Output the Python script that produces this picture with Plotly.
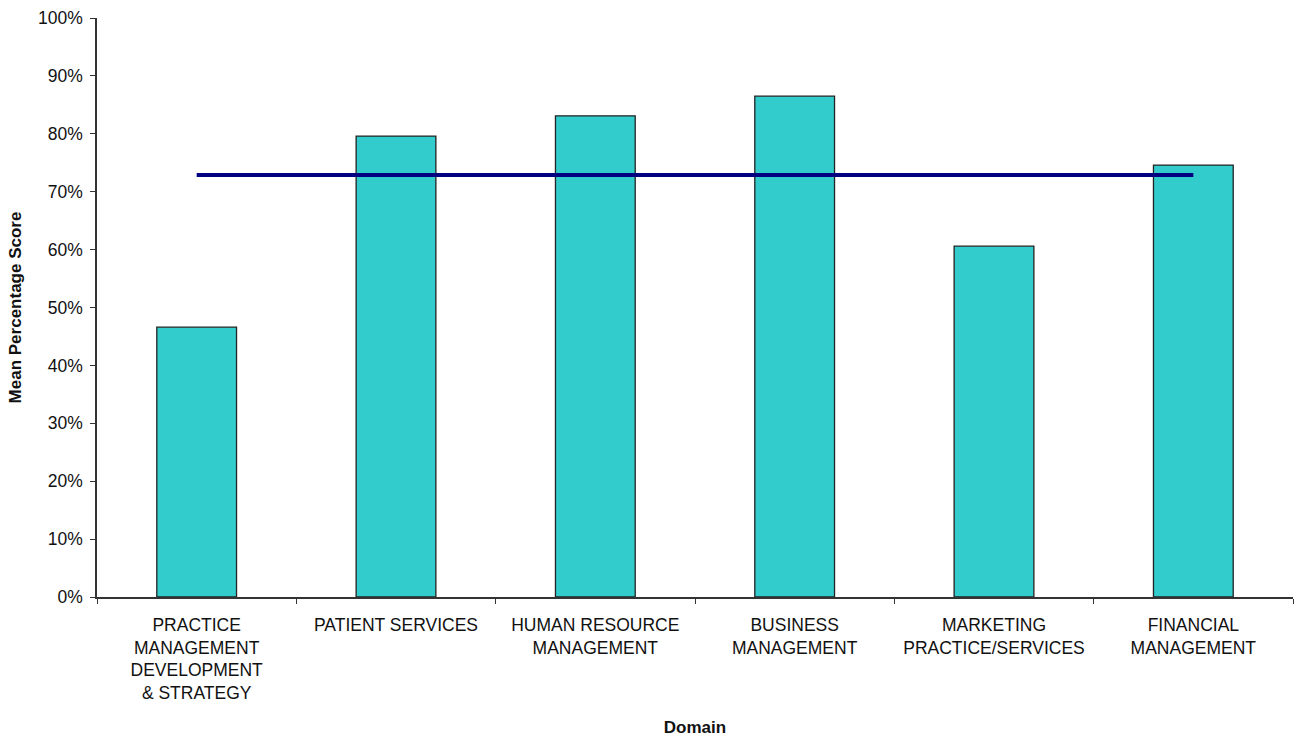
import plotly.graph_objects as go

categories = [
    "PRACTICE<br>MANAGEMENT<br>DEVELOPMENT<br>& STRATEGY",
    "PATIENT SERVICES",
    "HUMAN RESOURCE<br>MANAGEMENT",
    "BUSINESS<br>MANAGEMENT",
    "MARKETING<br>PRACTICE/SERVICES",
    "FINANCIAL<br>MANAGEMENT",
]
scores = [0.466, 0.796, 0.831, 0.865, 0.606, 0.746]
overall_mean = [0.729, 0.729]
y_ticks = [0, 0.1, 0.2, 0.3, 0.4, 0.5, 0.6, 0.7, 0.8, 0.9, 1.0]
y_labels = ["0%", "10%", "20%", "30%", "40%", "50%", "60%", "70%", "80%", "90%", "100%"]

FONT = "Liberation Sans, Arial, sans-serif"

fig = go.Figure()
fig.add_trace(go.Bar(
    x=categories, y=scores,
    marker=dict(color="#33CCCC", line=dict(color="#222222", width=1.3)),
    width=0.4, showlegend=False, hoverinfo="y",
))
fig.add_trace(go.Scatter(
    x=[categories[0], categories[-1]], y=overall_mean,
    mode="lines", line=dict(color="#000080", width=4),
    showlegend=False,
))

fig.update_layout(
    width=1295, height=737,
    margin=dict(l=97, r=2, t=18, b=140),
    paper_bgcolor="white", plot_bgcolor="white",
    font=dict(family=FONT, color="#111111"),
    bargap=0.6,
    xaxis=dict(
        type="category", categoryorder="array", categoryarray=categories,
        range=[-0.5, 5.5],
        showline=True, linecolor="#333333", linewidth=1.5,
        ticks="outside", tickson="boundaries", ticklen=5, tickcolor="#333333", tickwidth=1.3,
        ticklabelstandoff=11,
        tickfont=dict(size=17.5, family=FONT, color="#111111"),
        showgrid=False, zeroline=False,
        title=dict(text="<b>Domain</b>", font=dict(size=17, family=FONT, color="#111111"), standoff=19),
    ),
    yaxis=dict(
        range=[0, 1.0],
        tickvals=y_ticks, ticktext=y_labels,
        showline=True, linecolor="#333333", linewidth=1.5,
        ticks="outside", ticklen=5, tickcolor="#333333", tickwidth=1.3,
        ticklabelstandoff=4,
        tickfont=dict(size=17.5, family=FONT, color="#111111"),
        showgrid=False, zeroline=False,
        title=dict(text="<b>Mean Percentage Score</b>", font=dict(size=17, family=FONT, color="#111111"), standoff=12),
    ),
    xaxis2=dict(
        overlaying="x", anchor="y", range=[-0.5, 5.5],
        tickvals=[-0.5, 0.5, 1.5, 2.5, 3.5, 4.5, 5.5], showticklabels=False,
        ticks="inside", ticklen=5, tickcolor="#333333", tickwidth=1.3,
        showgrid=False, zeroline=False, showline=False,
    ),
    yaxis2=dict(
        overlaying="y", anchor="x", side="left", range=[0, 1.0],
        tickvals=y_ticks, showticklabels=False,
        ticks="inside", ticklen=5, tickcolor="#333333", tickwidth=1.3,
        showgrid=False, zeroline=False, showline=False,
    ),
)

fig.write_html("out.html")
